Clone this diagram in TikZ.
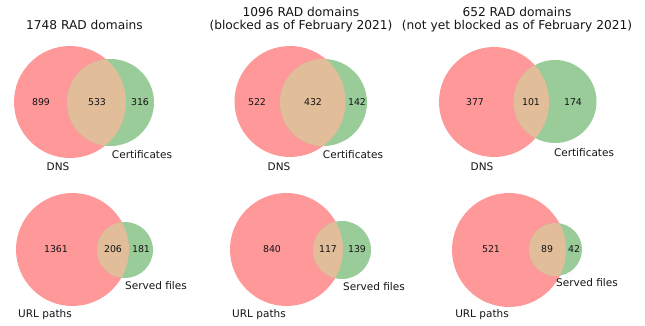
\documentclass[tikz,border=0pt]{standalone}
\usepackage{fontspec}
\setmainfont{DejaVu Sans}
\definecolor{setA}{RGB}{255,153,153}
\definecolor{setB}{RGB}{153,204,153}
\definecolor{setAB}{RGB}{225,189,153}
\definecolor{ink}{RGB}{20,20,20}

% Two-set Venn diagram: #1 prefix, (#2,#3) r=#4 first set, (#5,#6) r=#7 second set
\newcommand\twosets[7]{%
  \fill[setA] (#2,#3) circle (#4);
  \fill[setB] (#5,#6) circle (#7);
  \begin{scope}
    \clip (#2,#3) circle (#4);
    \fill[setAB] (#5,#6) circle (#7);
  \end{scope}
}

\begin{document}
\begin{tikzpicture}[x=1pt,y=-1pt,
  txt/.style={inner sep=0pt, text height=0.73em, text depth=0pt, text=ink},
  count/.style={txt, font=\fontsize{9.4}{11}\selectfont},
  setname/.style={txt, font=\fontsize{10.5}{12}\selectfont},
  heading/.style={txt, font=\fontsize{12.2}{14}\selectfont}]
\useasboundingbox (0,0) rectangle (645,326);

% ---- top row: DNS vs Certificates ----
\twosets{a}{70}{102}{56}{110.5}{102.5}{43.5}
\node[heading] (t1) at (84.5,26) {1748 RAD domains};
\node[count] (a1) at (41,102) {899};
\node[count] (a2) at (97,102) {533};
\node[count] (a3) at (140,102) {316};
\node[setname] (a4) at (142,154.5) {Certificates};
\node[setname] (a5) at (58,166.5) {DNS};

\twosets{b}{290}{101.5}{55.5}{323.5}{102.5}{43.5}
\node[heading] (t2a) at (301,12.5) {1096 RAD domains};
\node[heading] (t2b) at (301,26) {(blocked as of February 2021)};
\node[count] (b1) at (257,102) {522};
\node[count] (b2) at (313,102) {432};
\node[count] (b3) at (357,102) {142};
\node[setname] (b4) at (353,155) {Certificates};
\node[setname] (b5) at (279,166.5) {DNS};

\twosets{c}{494}{102}{55}{555}{101.5}{41.5}
\node[heading] (t3a) at (517,12.5) {652 RAD domains};
\node[heading] (t3b) at (517,26) {(not yet blocked as of February 2021)};
\node[count] (c1) at (475,102) {377};
\node[count] (c2) at (531,102) {101};
\node[count] (c3) at (573,102) {174};
\node[setname] (c4) at (584,153) {Certificates};
\node[setname] (c5) at (482,166.5) {DNS};

% ---- bottom row: URL paths vs Served files ----
\twosets{d}{72.5}{249.5}{56.5}{125}{250}{28}
\node[count] (d1) at (56,249) {1361};
\node[count] (d2) at (113,249) {206};
\node[count] (d3) at (141,249) {181};
\node[setname] (d4) at (156,286) {Served files};
\node[setname] (d5) at (45,314) {URL paths};

\twosets{e}{286.5}{249.5}{56.5}{342}{250}{29}
\node[count] (e1) at (272,249) {840};
\node[count] (e2) at (328,249) {117};
\node[count] (e3) at (357,249) {139};
\node[setname] (e4) at (374,287) {Served files};
\node[setname] (e5) at (259,314) {URL paths};

\twosets{f}{509}{250}{57}{555.5}{249.5}{26.5}
\node[count] (f1) at (491,249) {521};
\node[count] (f2) at (547,249) {89};
\node[count] (f3) at (574,249) {42};
\node[setname] (f4) at (587,283) {Served files};
\node[setname] (f5) at (482,314) {URL paths};
\end{tikzpicture}
\end{document}
